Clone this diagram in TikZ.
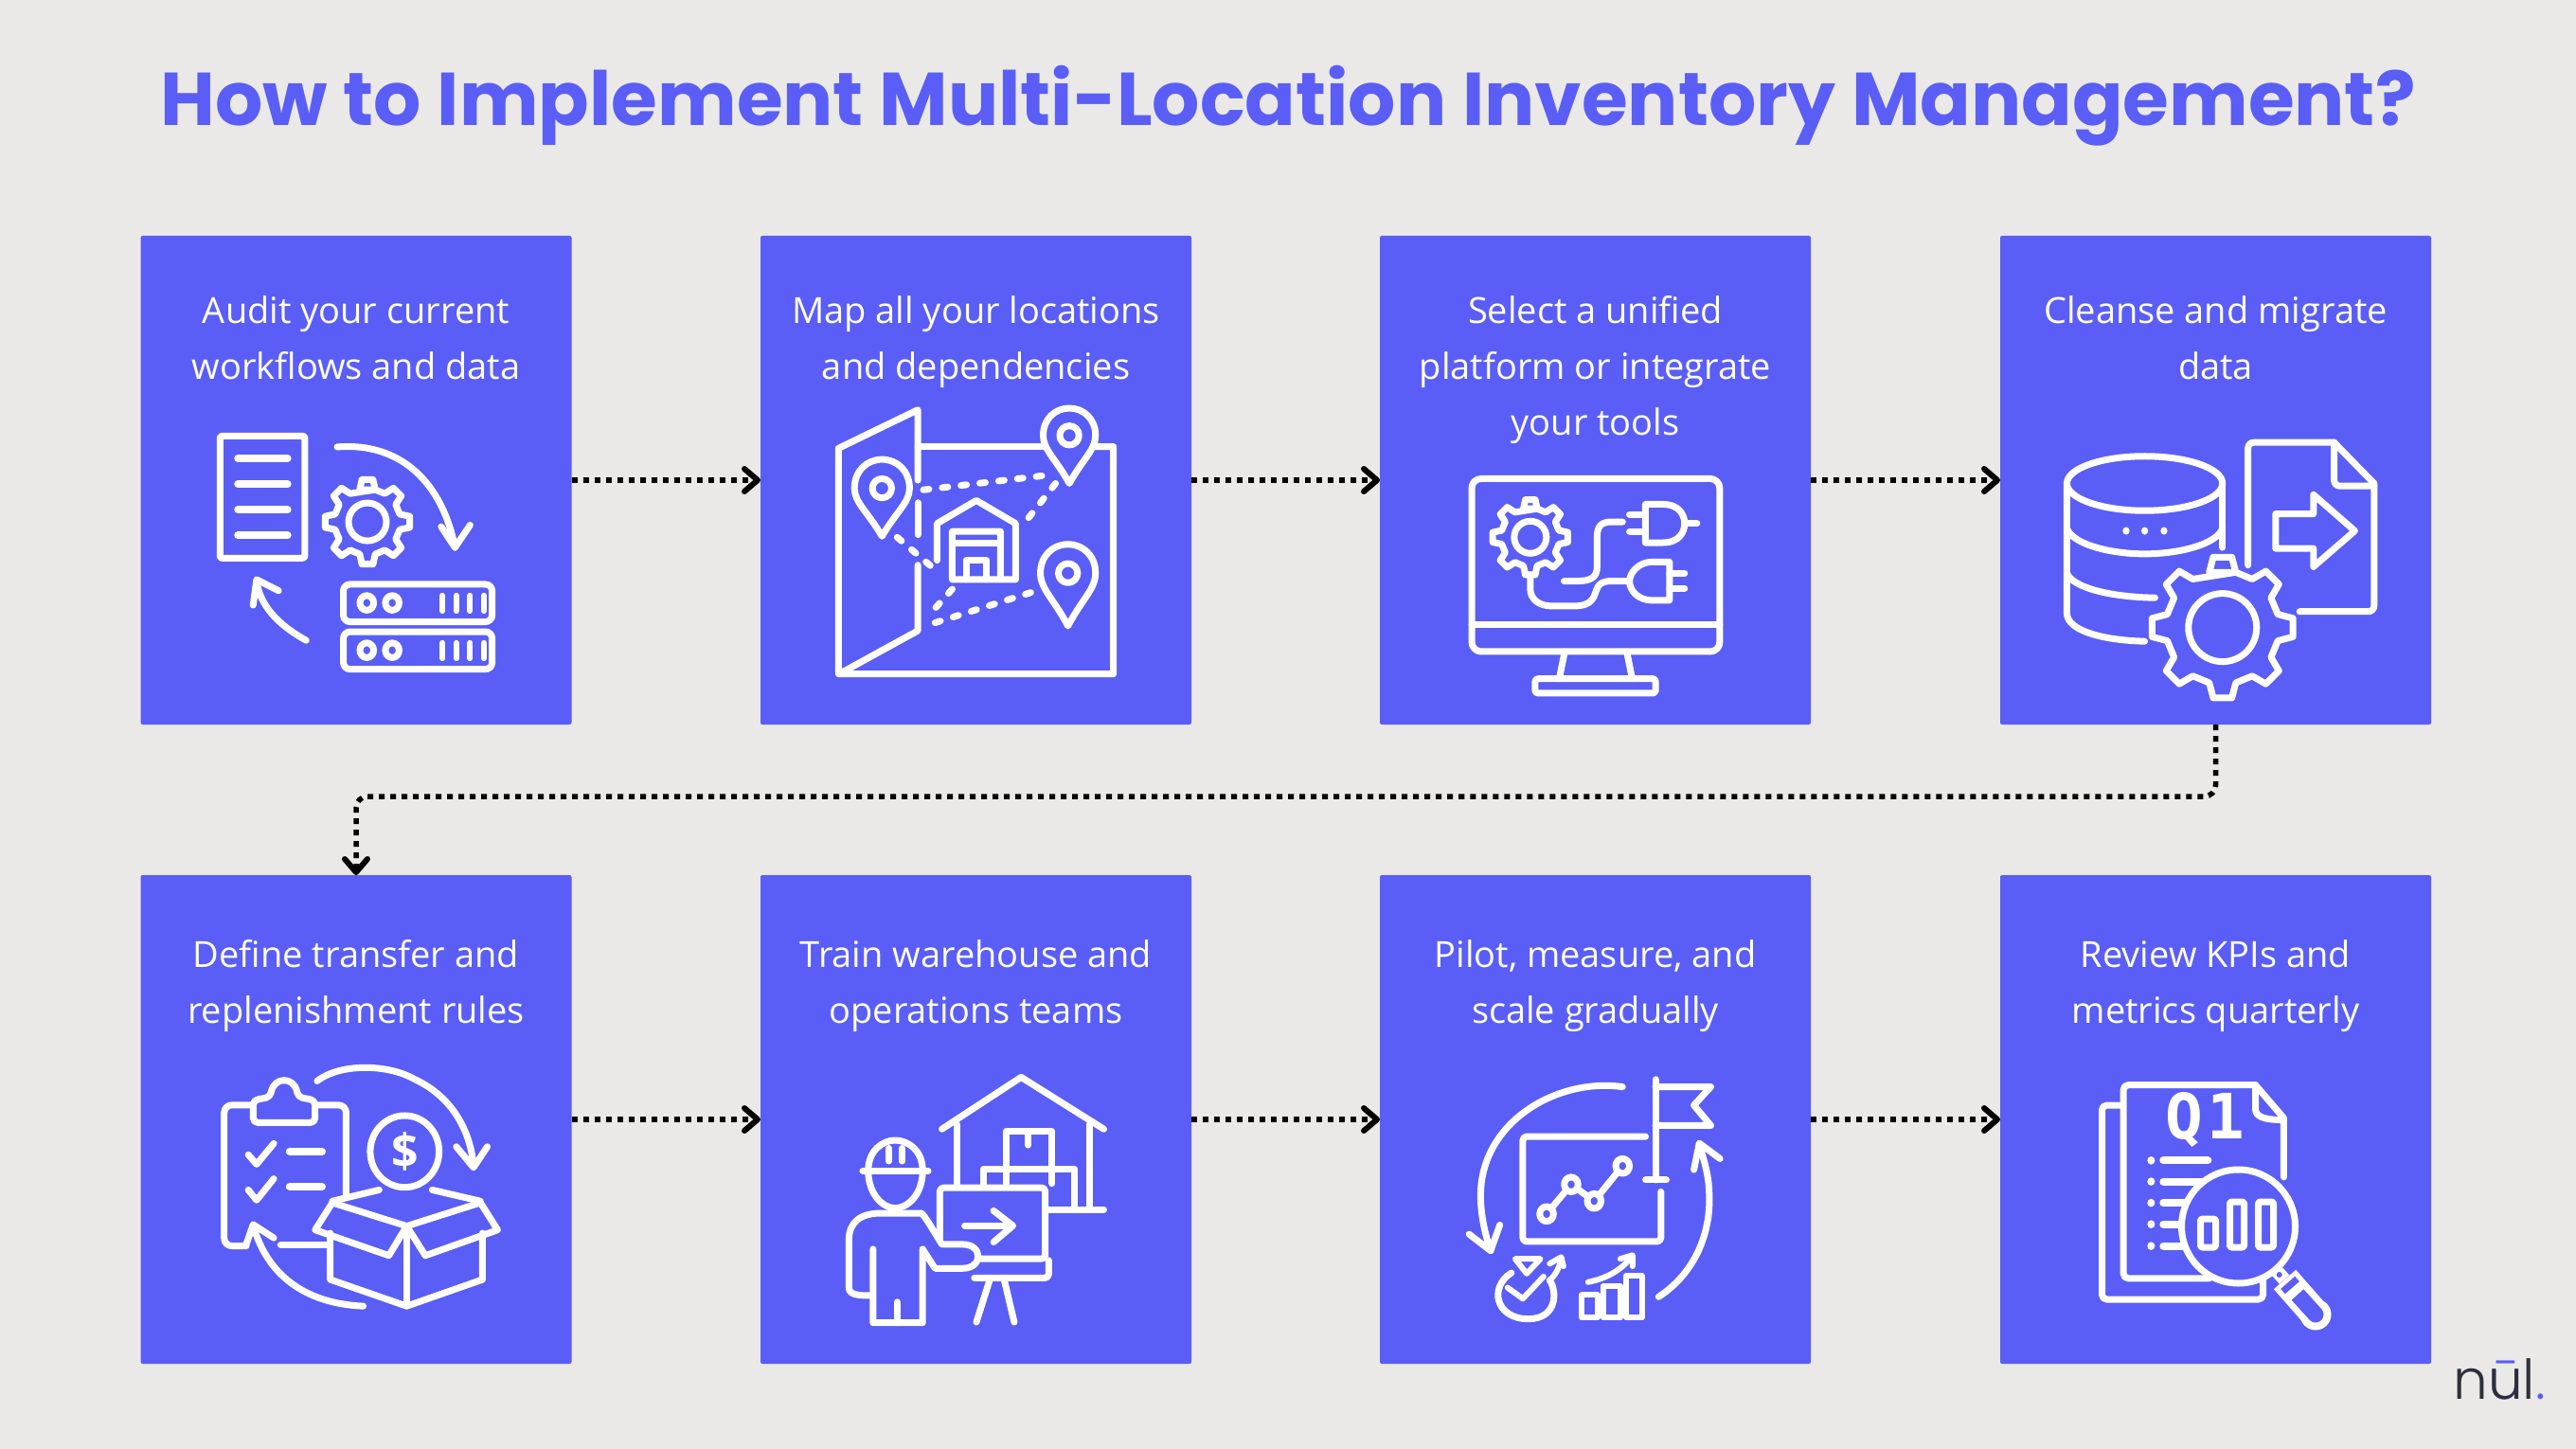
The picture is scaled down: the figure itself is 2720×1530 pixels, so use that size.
\documentclass[tikz,border=0pt]{standalone}
\usepackage{fontspec}
\usetikzlibrary{arrows.meta,calc}
\setmainfont{Open Sans}
\newfontfamily\titlef{Poppins}
\newfontfamily\logof{Poppins Light}
\newfontfamily\bodyf{Open Sans}
\newfontfamily\qf{DejaVu Sans Mono}
\definecolor{boxc}{HTML}{5A5EF6}
\definecolor{bgc}{HTML}{EAE9E8}
\definecolor{inkc}{HTML}{2E3038}
\newcommand\fs{\rule{0pt}{40pt}}
\tikzset{
  box/.style={fill=boxc,minimum width=455pt,minimum height=516pt,inner sep=0pt,outer sep=0pt,rounded corners=2pt},
  lab/.style={text=white,inner sep=0pt,align=center,anchor=north,font=\bodyf\fontsize{38}{59}\selectfont},
  conn/.style={draw=black,line width=5.5pt,dash pattern=on 6pt off 6pt,-{Straight Barb[length=14pt,width=24pt,line width=6pt,round]}},
  ic/.style={draw=white,line width=7pt,line cap=round,line join=round},
  dots/.style={draw=white,line width=7pt,line cap=round,dash pattern=on 6pt off 14pt},
  zoomA/.style={shift={(140,240)},x=0.7273pt,y=-0.3381pt},
  zoomB/.style={shift={(1450,240)},x=0.7273pt,y=-0.3381pt},
  zoomC/.style={shift={(140,920)},x=0.7273pt,y=-0.3381pt},
  zoomD/.style={shift={(1450,920)},x=0.81pt,y=-0.389pt},
}
% gear: centre x, centre y, outer r, root r, hole r, teeth
\newcommand\gearicon[6]{%
  \begin{scope}[shift={(#1,#2)},x=1pt,y=1pt]
    \draw[ic,fill=boxc] ({90-108/#6}:#4)
      \foreach \k in {1,...,#6}{
        -- ({90+\k*360/#6-108/#6}:#4)
        -- ({90+\k*360/#6-60/#6}:#3)
        -- ({90+\k*360/#6+60/#6}:#3)
        -- ({90+\k*360/#6+108/#6}:#4)
      } -- cycle;
    \draw[ic] (0,0) circle (#5);
  \end{scope}}
% pin: centre x, top y, head y, tip y, x radius, hole rx, hole ry
\newcommand\pinicon[7]{%
  \draw[ic] (#1,#4)
    .. controls ({#1-0.5*#5},{(#4+#3)/2}) and ({#1-#5},{#3+(#4-#3)*0.3}) .. ({#1-#5},#3)
    .. controls ({#1-#5},{#3-(#3-#2)*0.6}) and ({#1-0.55*#5},#2) .. (#1,#2)
    .. controls ({#1+0.55*#5},#2) and ({#1+#5},{#3-(#3-#2)*0.6}) .. ({#1+#5},#3)
    .. controls ({#1+#5},{#3+(#4-#3)*0.3}) and ({#1+0.5*#5},{(#4+#3)/2}) .. (#1,#4) -- cycle;
  \draw[ic] (#1,#3) ellipse [x radius=#6,y radius=#7];}
\begin{document}
\begin{tikzpicture}[x=1pt,y=-1pt]
\useasboundingbox (0,0) rectangle (2720,1530);
\fill[bgc] (0,0) rectangle (2720,1530);
\node[anchor=base,text=boxc,inner sep=0pt,font=\titlef\bfseries\fontsize{79}{90}\selectfont] (title) at (1360,133) {How to Implement Multi-Location Inventory Management?};

\node[box] (b1) at (376,507) {};
\node[box] (b2) at (1030.5,507) {};
\node[box] (b3) at (1684.5,507) {};
\node[box] (b4) at (2339.5,507) {};
\node[box] (b5) at (376,1182) {};
\node[box] (b6) at (1030.5,1182) {};
\node[box] (b7) at (1684.5,1182) {};
\node[box] (b8) at (2339.5,1182) {};

\node[lab] (t1) at ([yshift=-52pt]b1.north) {\fs Audit your current\\workflows and data};
\node[lab] (t2) at ([yshift=-52pt]b2.north) {\fs Map all your locations\\and dependencies};
\node[lab] (t3) at ([yshift=-52pt]b3.north) {\fs Select a unified\\platform or integrate\\your tools};
\node[lab] (t4) at ([yshift=-52pt]b4.north) {\fs Cleanse and migrate\\data};
\node[lab] (t5) at ([yshift=-57pt]b5.north) {\fs Define transfer and\\replenishment rules};
\node[lab] (t6) at ([yshift=-57pt]b6.north) {\fs Train warehouse and\\operations teams};
\node[lab] (t7) at ([yshift=-57pt]b7.north) {\fs Pilot, measure, and\\scale gradually};
\node[lab] (t8) at ([yshift=-57pt]b8.north) {\fs Review KPIs and\\metrics quarterly};

\draw[conn] (b1.east) -- (b2.west);
\draw[conn] (b2.east) -- (b3.west);
\draw[conn] (b3.east) -- (b4.west);
\draw[conn] (b5.east) -- (b6.west);
\draw[conn] (b6.east) -- (b7.west);
\draw[conn] (b7.east) -- (b8.west);
\coordinate (mid) at (1360,841);
\draw[conn,rounded corners=12pt] (b4.south) -- (b4.south |- mid) -- (b5.north |- mid) -- (b5.north);

% ---- icon 1
\begin{scope}[zoomA]
  \draw[ic,rounded corners=2pt] (127,652) rectangle (250,1033);
  \foreach \yy in {722,802,882,962}{\draw[ic,line width=8pt] (153,\yy) -- (225,\yy);}
  \gearicon{341}{920}{45}{35}{20}{8}
  \draw[ic] (297,686) .. controls (390,670) and (450,800) .. (468,1000);
  \draw[ic] (448,935) -- (468,1000) -- (490,930);
  \draw[ic] (252,1290) .. controls (210,1240) and (185,1180) .. (180,1105);
  \draw[ic] (175,1180) -- (180,1100) -- (212,1135);
  \foreach \dy in {0,148}{
    \draw[ic,rounded corners=7pt] (306,1115+\dy) rectangle (522,1232+\dy);
    \draw[ic] (340,1173+\dy) ellipse [x radius=10,y radius=23];
    \draw[ic] (377,1173+\dy) ellipse [x radius=10,y radius=23];
    \foreach \xx in {450,470,490,510}{\draw[ic,line width=6pt] (\xx,1150+\dy) -- (\xx,1198+\dy);}
  }
\end{scope}
% ---- icon 2
\begin{scope}[zoomA]
  \draw[ic] (1140,790) -- (1140,570) -- (1025,690) -- (1025,1395) -- (1424,1395) -- (1424,685) -- (1395,685);
  \draw[ic] (1140,685) -- (1325,685);
  \draw[ic] (1140,860) -- (1140,960);
  \draw[ic] (1140,1055) -- (1140,1260) -- (1030,1390);
  \pinicon{1088}{725}{815}{965}{40}{14}{30}
  \pinicon{1360}{565}{650}{800}{38}{14}{30}
  \pinicon{1358}{990}{1080}{1245}{40}{14}{30}
  \draw[dots] (1148,820) -- (1325,775);
  \draw[dots] (1340,800) -- (1298,915);
  \draw[dots] (1110,968) -- (1160,1060);
  \draw[dots] (1190,1130) -- (1165,1190);
  \draw[dots] (1165,1235) -- (1305,1140);
  \draw[ic] (1168,1040) -- (1168,925) -- (1225,853) -- (1282,925) -- (1282,1100) -- (1190,1100) -- (1190,950) -- (1260,950) -- (1260,1100);
  \draw[ic] (1190,985) -- (1260,985);
  \draw[ic] (1210,1100) -- (1210,1040) -- (1240,1040) -- (1240,1100);
\end{scope}
% ---- icon 3
\begin{scope}[zoomB]
  \draw[ic,rounded corners=10pt] (143,785) rectangle (503,1325);
  \draw[ic] (143,1240) -- (503,1240);
  \draw[ic] (278,1325) -- (270,1410);
  \draw[ic] (368,1325) -- (376,1410);
  \draw[ic,rounded corners=3pt] (235,1410) rectangle (410,1455);
  \gearicon{228}{968}{40}{31}{17}{8}
  \draw[ic] (395,865) -- (420,865) .. controls (445,865) and (452,900) .. (452,925) .. controls (452,950) and (445,985) .. (420,985) -- (395,985) -- cycle;
  \draw[ic] (372,897) -- (395,897);
  \draw[ic] (372,950) -- (395,950);
  \draw[ic] (452,925) -- (470,925);
  \draw[ic] (362,920) -- (345,920) .. controls (325,920) and (325,950) .. (325,975) -- (325,1060) .. controls (325,1095) and (315,1105) .. (295,1105) -- (277,1105);
  \draw[ic] (430,1045) -- (405,1045) .. controls (385,1045) and (372,1080) .. (372,1105) .. controls (372,1135) and (385,1165) .. (405,1165) -- (430,1165) -- cycle;
  \draw[ic] (430,1080) -- (452,1080);
  \draw[ic] (430,1128) -- (452,1128);
  \draw[ic] (372,1105) -- (345,1105) .. controls (325,1105) and (325,1130) .. (322,1145) .. controls (318,1170) and (310,1183) .. (290,1183) -- (260,1183) .. controls (240,1183) and (228,1160) .. (228,1130) -- (228,1085);
\end{scope}
% ---- icon 4
\begin{scope}[zoomB]
  \draw[ic] (1120,800) ellipse [x radius=113,y radius=85];
  \draw[ic] (1007,800) -- (1007,1205) .. controls (1007,1260) and (1060,1290) .. (1120,1293);
  \draw[ic] (1233,800) -- (1233,1000);
  \draw[ic] (1007,940) .. controls (1015,990) and (1070,1020) .. (1120,1020) .. controls (1170,1020) and (1225,990) .. (1233,940);
  \draw[ic] (1007,1080) .. controls (1015,1125) and (1070,1155) .. (1135,1157);
  \foreach \xx in {1093,1120,1148}{\fill[white] (\xx,948) ellipse [x radius=5,y radius=12];}
  \draw[ic,rounded corners=6pt] (1270,1055) -- (1270,672) -- (1395,672);
  \draw[ic] (1395,672) -- (1453,800);
  \draw[ic,rounded corners=6pt] (1453,800) -- (1453,1200) -- (1345,1200);
  \draw[ic,rounded corners=6pt] (1395,672) -- (1395,808) -- (1453,808);
  \draw[ic] (1310,895) -- (1365,895) -- (1365,835) -- (1425,948) -- (1365,1060) -- (1365,1003) -- (1310,1003) -- cycle;
  \gearicon{1233}{1250}{75}{60}{36}{8}
\end{scope}
% ---- icon 5
\begin{scope}[zoomC]
  \draw[ic,rounded corners=8pt] (310,1020) -- (310,730) -- (265,730);
  \draw[ic,rounded corners=8pt] (175,730) -- (133,730) -- (133,1170) -- (165,1170);
  \draw[ic] (215,1167) -- (285,1167);
  \draw[ic,rounded corners=5pt] (175,785) -- (175,715) -- (200,705) .. controls (205,640) and (235,640) .. (240,705) -- (265,715) -- (265,785) -- cycle;
  \draw[ic] (168,885) -- (180,915) -- (205,850);
  \draw[ic] (168,995) -- (180,1027) -- (205,960);
  \draw[ic,line width=8pt] (228,875) -- (275,875);
  \draw[ic,line width=8pt] (228,985) -- (275,985);
  \draw[ic] (395,875) ellipse [x radius=50,y radius=112];
  \node[text=white,inner sep=0pt,font=\bodyf\bfseries\fontsize{50}{52}\selectfont] (dollar) at (395,875) {\$};
  \draw[ic] (268,655) .. controls (300,600) and (370,600) .. (410,650) .. controls (460,700) and (490,800) .. (495,920);
  \draw[ic] (470,860) -- (495,925) -- (515,860);
  \draw[ic] (335,1358) .. controls (250,1350) and (195,1260) .. (175,1105);
  \draw[ic] (165,1165) -- (175,1103) -- (205,1145);
  \draw[ic] (287,1130) -- (287,1275) -- (398,1358) -- (508,1275) -- (508,1130);
  \draw[ic] (398,1108) -- (398,1358);
  \draw[ic] (290,1035) -- (398,1108) -- (505,1035);
  \draw[ic] (290,1030) -- (358,995);
  \draw[ic] (435,995) -- (505,1030);
  \draw[ic] (290,1035) -- (265,1120) -- (372,1200) -- (398,1108);
  \draw[ic] (505,1035) -- (530,1120) -- (425,1200) -- (398,1108);
\end{scope}
% ---- icon 6
\begin{scope}[zoomC]
  \draw[ic] (1175,805) -- (1290,643) -- (1410,805);
  \draw[ic] (1197,790) -- (1197,985);
  \draw[ic] (1390,790) -- (1390,1057);
  \draw[ic] (1330,1057) -- (1410,1057);
  \draw[ic] (1268,925) -- (1268,812) -- (1335,812) -- (1335,925);
  \draw[ic] (1300,812) -- (1300,855);
  \draw[ic] (1235,985) -- (1235,930) -- (1368,930) -- (1368,1050);
  \draw[ic] (1268,930) -- (1268,975);
  \draw[ic] (1335,930) -- (1335,975);
  \draw[ic,rounded corners=4pt] (1172,1150) -- (1172,988) -- (1325,988) -- (1325,1210) -- (1230,1210);
  \draw[ic,rounded corners=4pt] (1222,1270) -- (1330,1270) -- (1330,1215);
  \draw[ic] (1245,1272) -- (1225,1408);
  \draw[ic] (1265,1272) -- (1280,1408);
  \draw[ic] (1208,1107) -- (1275,1107);
  \draw[ic] (1250,1060) -- (1278,1107) -- (1250,1158);
  \draw[ic] (1060,935) -- (1155,935);
  \draw[ic] (1068,935) .. controls (1068,870) and (1090,840) .. (1107,840) .. controls (1125,840) and (1147,870) .. (1147,935);
  \draw[ic] (1068,935) .. controls (1068,1010) and (1090,1052) .. (1107,1052) .. controls (1125,1052) and (1147,1010) .. (1147,935);
  \draw[ic] (1098,865) -- (1098,905);
  \draw[ic] (1117,865) -- (1117,905);
  \draw[ic] (1145,1068) -- (1085,1068) .. controls (1055,1068) and (1040,1100) .. (1040,1150) -- (1040,1300) .. controls (1040,1320) and (1050,1325) .. (1070,1325);
  \draw[ic] (1075,1180) -- (1075,1410) -- (1147,1410) -- (1147,1180) -- (1165,1240) -- (1205,1240) .. controls (1235,1240) and (1235,1165) .. (1205,1165) -- (1175,1165) -- (1155,1095) .. controls (1150,1080) and (1148,1072) .. (1145,1068);
  \draw[ic] (1110,1345) -- (1110,1410);
\end{scope}
% ---- icon 7
\begin{scope}[zoomD]
  \draw[ic] (368,565) -- (368,838);
  \draw[ic] (355,838) -- (382,838);
  \draw[ic] (368,585) -- (440,585) -- (418,635) -- (440,690) -- (368,690);
  \draw[ic,rounded corners=4pt] (355,720) -- (195,720) -- (195,1005) -- (375,1005) -- (375,870);
  \draw[ic] (226,930) -- (258,850) -- (288,895) -- (325,800);
  \foreach \p in {(226,930),(258,850),(288,895),(325,800)}{\draw[ic,fill=boxc] \p ellipse [x radius=9,y radius=20];}
  \draw[ic] (325,585) .. controls (240,560) and (140,680) .. (140,880) .. controls (140,930) and (145,980) .. (153,1030);
  \draw[ic] (125,985) -- (153,1030) -- (165,960);
  \draw[ic] (372,1155) .. controls (420,1090) and (440,980) .. (438,880) .. controls (438,830) and (432,790) .. (425,740);
  \draw[ic] (418,810) -- (425,738) -- (452,780);
  \draw[ic] (180,1090) .. controls (150,1130) and (160,1215) .. (202,1215) .. controls (240,1215) and (240,1140) .. (230,1110);
  \draw[ic,line width=6pt] (185,1052) -- (218,1052) -- (200,1092) -- cycle;
  \draw[ic,line width=6pt] (175,1130) -- (195,1160) -- (222,1100);
  \draw[ic,line width=6pt] (230,1110) .. controls (238,1095) and (243,1075) .. (245,1050);
  \draw[ic,line width=6pt] (230,1065) -- (245,1047) -- (248,1072);
  \draw[ic,line width=6pt] (272,1150) rectangle (292,1212);
  \draw[ic,line width=6pt] (300,1125) rectangle (322,1212);
  \draw[ic,line width=6pt] (330,1098) rectangle (350,1212);
  \draw[ic,line width=6pt] (280,1115) .. controls (305,1105) and (325,1080) .. (337,1045);
  \draw[ic,line width=6pt] (322,1052) -- (338,1042) -- (338,1072);
\end{scope}
% ---- icon 8
\begin{scope}[zoomD]
  \draw[ic,rounded corners=5pt] (975,635) -- (950,635) -- (950,1162) -- (1160,1162) -- (1160,1110);
  \draw[ic,rounded corners=5pt] (1090,1105) -- (978,1105) -- (978,580) -- (1150,580);
  \draw[ic] (1150,580) -- (1187,670) -- (1187,830);
  \draw[ic] (1150,580) -- (1150,645) .. controls (1150,665) and (1160,675) .. (1187,675);
  \node[text=white,inner sep=0pt,font=\qf\bfseries\fontsize{66}{68}\selectfont] (q1) at (1084,676) {Q\hspace{4pt}1};
  \foreach \yy/\xe in {785/1088,842/1080,900/1058,958/1058,1017/1058}{
    \fill[white] (1014,\yy) ellipse [x radius=5,y radius=11];
    \draw[ic,line width=8pt] (1030,\yy) -- (\xe,\yy);
  }
\end{scope}
% magnifier, in picture pixels
\draw[white,line width=14pt] (2395,1332) -- (2412,1351);
\fill[boxc] (2406.7,1346) circle (3pt);
\draw[white,line width=31pt] (2412.5,1351) -- (2445,1388);
\fill[white] (2445,1388) circle (16.5pt);
\draw[boxc,line width=7pt] (2410.5,1363.6) -- (2425.5,1350.4);
\draw[boxc,line width=17pt] (2426,1367) -- (2445,1388);
\fill[boxc] (2445,1388) circle (8.5pt);
\draw[ic,fill=boxc] (2363.5,1295) circle (60pt);
\draw[ic,rounded corners=2pt] (2323.5,1287) rectangle (2339.5,1317);
\draw[ic,rounded corners=2pt] (2354.5,1269) rectangle (2369.5,1317);
\draw[ic,rounded corners=2pt] (2384.5,1269) rectangle (2400.5,1317);
% ---- logo
\node[anchor=base,inner sep=0pt,text=inkc,font=\logof\fontsize{58}{60}\selectfont] (logo) at (2639,1477) {n\rlap{\textcolor{boxc}{ū}}ul\textcolor{boxc}{.}};
\end{tikzpicture}
\end{document}
